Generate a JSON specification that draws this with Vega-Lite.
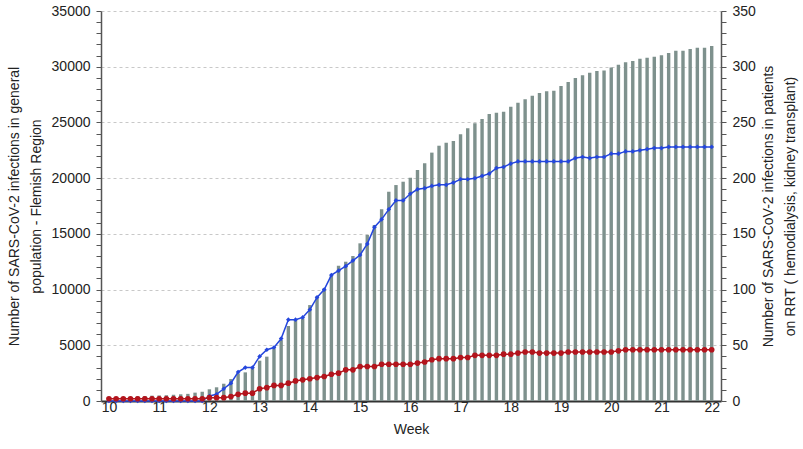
{
  "$schema": "https://vega.github.io/schema/vega-lite/v6.json",
  "autosize": "none",
  "width": 620,
  "height": 390,
  "padding": {"left": 101, "top": 11, "right": 82, "bottom": 48},
  "background": "white",
  "config": {"view": {"stroke": null}, "font": "Liberation Sans"},
  "data": {"values": [
    {"day":0,"cases":300,"hd":0,"tx":2},{"day":1,"cases":320,"hd":0,"tx":2},{"day":2,"cases":350,"hd":0,"tx":2},{"day":3,"cases":380,"hd":0,"tx":2},{"day":4,"cases":420,"hd":0,"tx":2},{"day":5,"cases":450,"hd":0,"tx":2},{"day":6,"cases":480,"hd":0,"tx":2},
    {"day":7,"cases":500,"hd":0,"tx":2},{"day":8,"cases":520,"hd":0,"tx":2},{"day":9,"cases":560,"hd":0,"tx":2},{"day":10,"cases":600,"hd":0,"tx":2},{"day":11,"cases":640,"hd":0,"tx":2},{"day":12,"cases":750,"hd":0,"tx":2},{"day":13,"cases":830,"hd":0,"tx":2},
    {"day":14,"cases":1050,"hd":4.5,"tx":3},{"day":15,"cases":1230,"hd":6,"tx":3},{"day":16,"cases":1550,"hd":11,"tx":3},{"day":17,"cases":1970,"hd":16,"tx":4},{"day":18,"cases":2480,"hd":26,"tx":6},{"day":19,"cases":2570,"hd":30,"tx":7},{"day":20,"cases":3020,"hd":30,"tx":7},
    {"day":21,"cases":3620,"hd":40,"tx":11},{"day":22,"cases":3980,"hd":46,"tx":12},{"day":23,"cases":4730,"hd":48,"tx":14},{"day":24,"cases":5470,"hd":56,"tx":14},{"day":25,"cases":6730,"hd":73,"tx":16},{"day":26,"cases":7300,"hd":73,"tx":18},{"day":27,"cases":7400,"hd":75,"tx":19},
    {"day":28,"cases":8610,"hd":82,"tx":20},{"day":29,"cases":9360,"hd":93,"tx":21},{"day":30,"cases":10110,"hd":100,"tx":22},{"day":31,"cases":11310,"hd":113,"tx":24},{"day":32,"cases":12140,"hd":117,"tx":25},{"day":33,"cases":12500,"hd":121,"tx":28},{"day":34,"cases":13010,"hd":126,"tx":28},
    {"day":35,"cases":14150,"hd":131,"tx":31},{"day":36,"cases":14900,"hd":141,"tx":31},{"day":37,"cases":15800,"hd":156,"tx":31},{"day":38,"cases":17200,"hd":163,"tx":33},{"day":39,"cases":18780,"hd":172,"tx":33},{"day":40,"cases":19380,"hd":180,"tx":33},{"day":41,"cases":19680,"hd":180,"tx":33},
    {"day":42,"cases":20040,"hd":186,"tx":33},{"day":43,"cases":20730,"hd":190,"tx":34},{"day":44,"cases":21330,"hd":191,"tx":35},{"day":45,"cases":22290,"hd":193,"tx":37},{"day":46,"cases":22910,"hd":194,"tx":38},{"day":47,"cases":23180,"hd":194,"tx":38},{"day":48,"cases":23330,"hd":196,"tx":38},
    {"day":49,"cases":23930,"hd":199,"tx":39},{"day":50,"cases":24470,"hd":199,"tx":39},{"day":51,"cases":24920,"hd":200,"tx":41},{"day":52,"cases":25310,"hd":202,"tx":41},{"day":53,"cases":25760,"hd":204,"tx":41},{"day":54,"cases":25870,"hd":209,"tx":41},{"day":55,"cases":25960,"hd":210,"tx":42},
    {"day":56,"cases":26410,"hd":213,"tx":42},{"day":57,"cases":26770,"hd":215,"tx":43},{"day":58,"cases":27070,"hd":215,"tx":44},{"day":59,"cases":27400,"hd":215,"tx":44},{"day":60,"cases":27650,"hd":215,"tx":43},{"day":61,"cases":27800,"hd":215,"tx":43},{"day":62,"cases":27850,"hd":215,"tx":43},
    {"day":63,"cases":28270,"hd":215,"tx":43},{"day":64,"cases":28620,"hd":215,"tx":44},{"day":65,"cases":28990,"hd":218,"tx":44},{"day":66,"cases":29230,"hd":219,"tx":44},{"day":67,"cases":29460,"hd":218,"tx":44},{"day":68,"cases":29610,"hd":219,"tx":44},{"day":69,"cases":29670,"hd":219,"tx":44},
    {"day":70,"cases":29940,"hd":222,"tx":44},{"day":71,"cases":30180,"hd":222,"tx":45},{"day":72,"cases":30390,"hd":224,"tx":46},{"day":73,"cases":30510,"hd":224,"tx":46},{"day":74,"cases":30720,"hd":225,"tx":46},{"day":75,"cases":30810,"hd":226,"tx":46},{"day":76,"cases":30900,"hd":227,"tx":46},
    {"day":77,"cases":31020,"hd":227,"tx":46},{"day":78,"cases":31230,"hd":228,"tx":46},{"day":79,"cases":31440,"hd":228,"tx":46},{"day":80,"cases":31440,"hd":228,"tx":46},{"day":81,"cases":31590,"hd":228,"tx":46},{"day":82,"cases":31710,"hd":228,"tx":46},{"day":83,"cases":31710,"hd":228,"tx":46},{"day":84,"cases":31860,"hd":228,"tx":46}
  ]},
  "layer": [
    {
      "mark": {"type": "bar", "size": 3.4, "color": "#7e918d"},
      "encoding": {
        "x": {
          "field": "day", "type": "quantitative",
          "scale": {"domain": [-0.41, 84.6], "nice": false, "zero": false},
          "axis": {
            "orient": "bottom",
            "title": "Week",
            "titleFont": "Liberation Sans", "titleFontSize": 14, "titleFontWeight": "normal", "titleColor": "#222", "titlePadding": 8,
            "values": [0,7,14,21,28,35,42,49,56,63,70,77,84,0.5,1.5,2.5,3.5,4.5,5.5,6.5,7.5,8.5,9.5,10.5,11.5,12.5,13.5,14.5,15.5,16.5,17.5,18.5,19.5,20.5,21.5,22.5,23.5,24.5,25.5,26.5,27.5,28.5,29.5,30.5,31.5,32.5,33.5,34.5,35.5,36.5,37.5,38.5,39.5,40.5,41.5,42.5,43.5,44.5,45.5,46.5,47.5,48.5,49.5,50.5,51.5,52.5,53.5,54.5,55.5,56.5,57.5,58.5,59.5,60.5,61.5,62.5,63.5,64.5,65.5,66.5,67.5,68.5,69.5,70.5,71.5,72.5,73.5,74.5,75.5,76.5,77.5,78.5,79.5,80.5,81.5,82.5,83.5,84.5],
            "labelExpr": "datum.value % 7 === 0 ? format(10 + datum.value / 7, 'd') : ''",
            "labelFont": "Liberation Sans", "labelFontSize": 14, "labelColor": "#222",
            "labelFlush": false, "labelOverlap": false, "labelPadding": 4,
            "grid": false,
            "domainColor": "#333", "domainWidth": 2,
            "tickColor": "#111", "tickWidth": 1.2, "tickSize": -5,
            "tickOpacity": {"condition": {"test": "datum.value % 1 === 0", "value": 0}, "value": 1}
          }
        },
        "y": {
          "field": "cases", "type": "quantitative",
          "scale": {"domain": [0, 35000], "nice": false},
          "axis": {
            "orient": "left",
            "title": ["Number of SARS-CoV-2 infections in general", "population - Flemish Region"],
            "titleFont": "Liberation Sans", "titleFontSize": 14, "titleFontWeight": "normal", "titleColor": "#222", "titleLineHeight": 22, "titlePadding": 8,
            "values": [0,1000,2000,3000,4000,5000,6000,7000,8000,9000,10000,11000,12000,13000,14000,15000,16000,17000,18000,19000,20000,21000,22000,23000,24000,25000,26000,27000,28000,29000,30000,31000,32000,33000,34000,35000],
            "labelExpr": "datum.value % 5000 === 0 ? format(datum.value, 'd') : ''",
            "labelFont": "Liberation Sans", "labelFontSize": 14, "labelColor": "#222", "labelPadding": 6, "labelOverlap": false,
            "domainColor": "#555", "domainWidth": 1.5,
            "tickColor": "#555", "tickWidth": 1, "tickSize": 5,
            "grid": true, "gridColor": "#c8c8c8", "gridDash": [3, 3], "gridWidth": 1,
            "gridOpacity": {"condition": {"test": "datum.value % 5000 === 0 && datum.value > 0", "value": 1}, "value": 0}
          }
        }
      }
    },
    {
      "mark": {"type": "line", "color": "#2446dd", "strokeWidth": 1.5, "point": {"shape": "diamond", "filled": true, "color": "#2446dd", "size": 22}},
      "encoding": {
        "x": {"field": "day", "type": "quantitative"},
        "y": {
          "field": "hd", "type": "quantitative",
          "scale": {"domain": [0, 350], "nice": false},
          "axis": {
            "orient": "right",
            "title": ["Number of SARS-CoV-2 infections in patients", "on RRT ( hemodialysis, kidney transplant)"],
            "titleFont": "Liberation Sans", "titleFontSize": 14, "titleFontWeight": "normal", "titleColor": "#222", "titleLineHeight": 22,
            "titleAngle": 270, "titleBaseline": "top", "titleAlign": "center", "titleX": 40, "titleY": 195,
            "values": [0,10,20,30,40,50,60,70,80,90,100,110,120,130,140,150,160,170,180,190,200,210,220,230,240,250,260,270,280,290,300,310,320,330,340,350],
            "labelExpr": "datum.value % 50 === 0 ? format(datum.value, 'd') : ''",
            "labelFont": "Liberation Sans", "labelFontSize": 14, "labelColor": "#222", "labelPadding": 6, "labelOverlap": false,
            "domainColor": "#555", "domainWidth": 1.5,
            "tickColor": "#555", "tickWidth": 1, "tickSize": 5,
            "grid": false
          }
        }
      }
    },
    {
      "mark": {"type": "line", "color": "#b3141c", "strokeWidth": 1.5, "point": {"shape": "circle", "filled": true, "color": "#b3141c", "size": 32, "opacity": 1}},
      "encoding": {
        "x": {"field": "day", "type": "quantitative"},
        "y": {"field": "tx", "type": "quantitative", "scale": {"domain": [0, 350], "nice": false}, "axis": null}
      }
    }
  ],
  "resolve": {"scale": {"y": "independent"}}
}
